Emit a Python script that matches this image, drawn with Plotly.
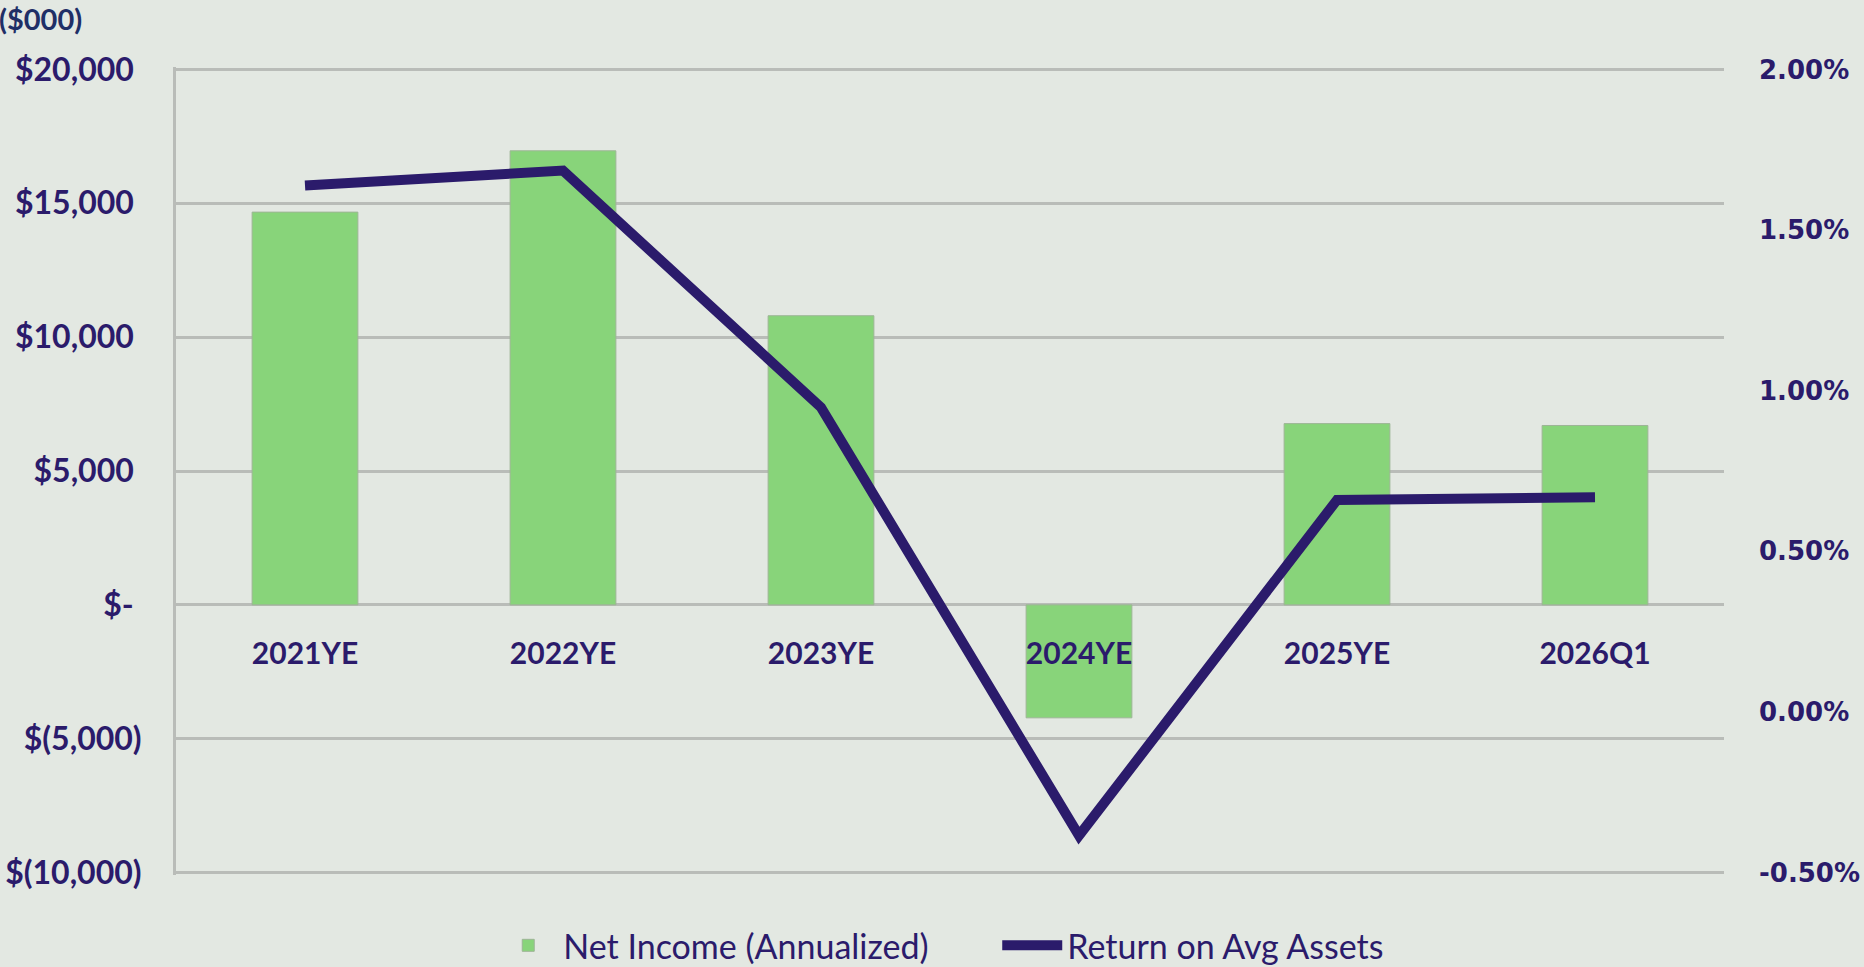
import plotly.graph_objects as go

categories = ["2021YE", "2022YE", "2023YE", "2024YE", "2025YE", "2026Q1"]
net_income = [14670, 16960, 10800, -4220, 6770, 6700]
roaa = [0.01639, 0.01685, 0.00948, -0.00385, 0.00660, 0.00668]

left_ticks = [-10000, -5000, 0, 5000, 10000, 15000, 20000]
right_ticks = [-0.005, 0.0, 0.005, 0.01, 0.015, 0.02]


def money(v):
    if v > 0:
        return f"${v:,.0f}\u00a0"
    if v == 0:
        return "$-\u00a0"
    return f"$({-v:,.0f})"


left_text = [money(v) for v in left_ticks]
right_text = [f"{v:.2%}" for v in right_ticks]

# small padding so that the edge gridlines are drawn
PAD = 0.003
l_lo, l_hi = -10000, 20000
r_lo, r_hi = -0.005, 0.02
l_rng = [l_lo - PAD * (l_hi - l_lo), l_hi + PAD * (l_hi - l_lo)]
r_rng = [r_lo - PAD * (r_hi - r_lo), r_hi + PAD * (r_hi - r_lo)]

BG = "#E3E8E2"
GREEN = "#88D47A"
NAVY = "#2B1B6B"
GRID = "#B9BCB8"
FONT = "Lato, Open Sans, sans-serif"

fig = go.Figure()
fig.add_trace(go.Bar(
    x=categories, y=net_income, name="Net Income (Annualized)",
    marker=dict(color=GREEN, line=dict(color="#9DB596", width=1)),
    yaxis="y", width=0.41,
))
fig.add_trace(go.Scatter(
    x=categories, y=roaa, name="Return on Avg Assets", mode="lines",
    line=dict(color=NAVY, width=10), yaxis="y2",
))

fig.update_layout(
    width=1864, height=967,
    paper_bgcolor=BG, plot_bgcolor=BG,
    margin=dict(l=176, r=140, t=67, b=92),
    showlegend=True,
    legend=dict(
        orientation="h", xref="container", yref="container",
        x=0.535, xanchor="center", y=0.022, yanchor="middle",
        font=dict(family=FONT, size=34, color=NAVY),
        bgcolor="rgba(0,0,0,0)", itemwidth=60, traceorder="normal",
        entrywidth=429,
    ),
    xaxis=dict(
        type="category", anchor="free", position=1/3, automargin=False,
        showline=False, showgrid=False, ticks="", zeroline=False,
        tickfont=dict(family=FONT, size=30, color=NAVY, weight="bold"),
        ticklabelstandoff=27, range=[-0.5, 5.5], fixedrange=True,
    ),
    yaxis=dict(
        range=l_rng, tickvals=left_ticks, ticktext=left_text, automargin=False,
        showgrid=True, gridcolor=GRID, gridwidth=3, zeroline=False,
        showline=True, linecolor=GRID, linewidth=3, ticks="",
        tickfont=dict(family=FONT, size=32, color=NAVY, weight="bold"),
        ticklabelstandoff=25, fixedrange=True,
    ),
    yaxis2=dict(
        range=r_rng, tickvals=right_ticks, ticktext=right_text, automargin=False,
        overlaying="y", side="right", anchor="x",
        showgrid=False, zeroline=False, showline=False, ticks="",
        tickfont=dict(family="DejaVu Sans, Verdana, sans-serif", size=26, color=NAVY, weight="bold"),
        ticklabelstandoff=34, fixedrange=True,
    ),
    annotations=[dict(
        text="($000)", xref="paper", yref="paper", x=0, y=1,
        xanchor="left", yanchor="top", showarrow=False,
        xshift=-179, yshift=68,
        font=dict(family=FONT, size=29, color="#1F2F66", weight="bold"),
    )],
    bargap=0.59,
)

fig.write_html(
    "out.html",
    config={"displayModeBar": False},
    post_script="document.body.style.margin='0px';",
)
